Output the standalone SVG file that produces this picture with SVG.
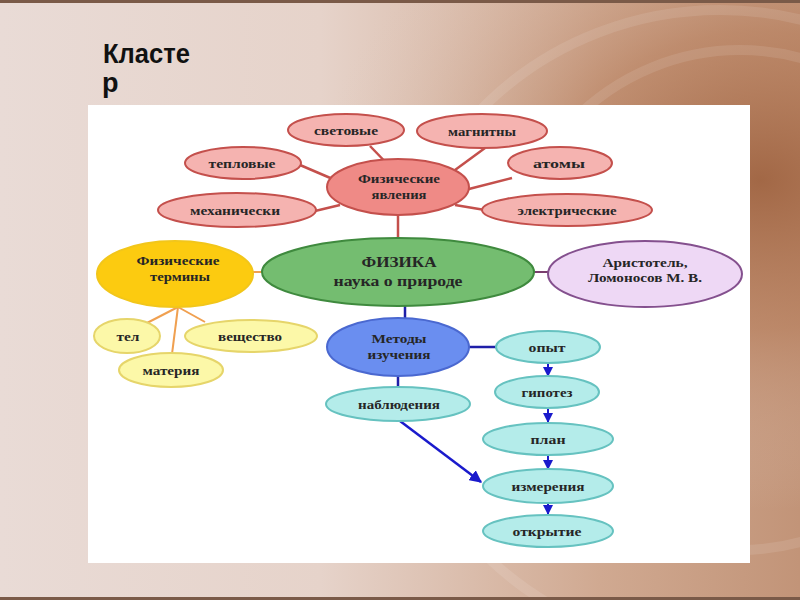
<svg xmlns="http://www.w3.org/2000/svg" width="800" height="600" viewBox="0 0 800 600">
<defs>
<linearGradient id="bg" x1="0" y1="0" x2="1" y2="0">
<stop offset="0" stop-color="#e9dbd6"/>
<stop offset="0.4" stop-color="#e6d3ca"/>
<stop offset="0.75" stop-color="#d0a991"/>
<stop offset="1" stop-color="#c29478"/>
</linearGradient>
<radialGradient id="sw" cx="0.95" cy="0.3" r="0.55">
<stop offset="0" stop-color="#9c5f3c" stop-opacity="0.85"/>
<stop offset="0.45" stop-color="#b57c5a" stop-opacity="0.55"/>
<stop offset="1" stop-color="#e0c8bb" stop-opacity="0"/>
</radialGradient>
<marker id="ah" viewBox="0 0 10 10" refX="9" refY="5" markerWidth="5" markerHeight="5" orient="auto" markerUnits="strokeWidth">
<path d="M0,0 L10,5 L0,10 z" fill="#1a1acc"/>
</marker>
<style>
.t{font-family:"Liberation Serif","DejaVu Serif",serif;font-weight:bold;font-size:13px;fill:#262626;text-anchor:middle}
.tb{font-size:15px}
.red{fill:#f5b3b0;stroke:#c4504c;stroke-width:2}
.redc{fill:#ef8a86;stroke:#c4504c;stroke-width:2}
.yel{fill:#fcf8a8;stroke:#e6d56a;stroke-width:2}
.cy{fill:#b4ecea;stroke:#66c2c0;stroke-width:2}
.rl{stroke:#c4504c;stroke-width:2.5;fill:none}
.ol{stroke:#f0a050;stroke-width:2;fill:none}
.bl{stroke:#1f1fa8;stroke-width:2.5;fill:none}
.ar{stroke:#1a1acc;stroke-width:2;fill:none;marker-end:url(#ah)}
</style>
</defs>
<rect width="800" height="600" fill="url(#bg)"/>
<rect width="800" height="600" fill="url(#sw)"/>
<g fill="none" stroke="#fff" stroke-opacity="0.1" stroke-width="10">
<ellipse cx="720" cy="330" rx="330" ry="320"/>
<ellipse cx="740" cy="300" rx="240" ry="250"/>
</g>
<rect x="0" y="0" width="800" height="3" fill="#7a5a48"/>
<rect x="0" y="597" width="800" height="3" fill="#7a5a48"/>
<text x="103" y="63" font-family="Liberation Sans, Arial, sans-serif" font-weight="bold" font-size="27" fill="#111" textLength="87" lengthAdjust="spacingAndGlyphs">Класте</text>
<text x="102" y="92" font-family="Liberation Sans, Arial, sans-serif" font-weight="bold" font-size="27" fill="#111">р</text>
<rect x="88" y="105" width="662" height="458" fill="#ffffff"/>
<g id="connectors">
<line class="rl" x1="370" y1="146" x2="398" y2="175"/>
<line class="rl" x1="300" y1="165" x2="335" y2="180"/>
<line class="rl" x1="315" y1="211" x2="340" y2="205"/>
<line class="rl" x1="455" y1="170" x2="485" y2="148"/>
<line class="rl" x1="465" y1="190" x2="512" y2="178"/>
<line class="rl" x1="455" y1="205" x2="485" y2="210"/>
<line class="rl" x1="398" y1="214" x2="398" y2="240"/>
<line class="ol" x1="250" y1="272" x2="265" y2="272"/>
<line class="ol" x1="178" y1="307" x2="145" y2="324"/>
<line class="ol" x1="178" y1="307" x2="172" y2="354"/>
<line class="ol" x1="178" y1="307" x2="205" y2="322"/>
<line x1="533" y1="272" x2="549" y2="272" stroke="#7a3e6e" stroke-width="2"/>
<line class="bl" x1="405" y1="305" x2="405" y2="320"/>
<line class="bl" x1="468" y1="347" x2="498" y2="347"/>
<line class="bl" x1="398" y1="375" x2="398" y2="389"/>
<line class="ar" x1="548" y1="364" x2="548" y2="376"/>
<line class="ar" x1="548" y1="409" x2="548" y2="422"/>
<line class="ar" x1="548" y1="456" x2="548" y2="469"/>
<line class="ar" x1="548" y1="503" x2="548" y2="514"/>
<line x1="400" y1="421" x2="481" y2="482" stroke="#1a1acc" stroke-width="2.5" marker-end="url(#ah)"/>
</g>
<g id="svetovye"><ellipse class="red" cx="346" cy="130" rx="58" ry="16"/><text class="t" x="346" y="135" textLength="64" lengthAdjust="spacingAndGlyphs">световые</text></g>
<g id="magnity"><ellipse class="red" cx="482" cy="131" rx="65" ry="17"/><text class="t" x="482" y="136" textLength="68" lengthAdjust="spacingAndGlyphs">магнитны</text></g>
<g id="teplovye"><ellipse class="red" cx="243" cy="163" rx="58" ry="16"/><text class="t" x="242" y="168" textLength="67" lengthAdjust="spacingAndGlyphs">тепловые</text></g>
<g id="atomy"><ellipse class="red" cx="560" cy="163" rx="52" ry="16"/><text class="t" x="559" y="168" textLength="52" lengthAdjust="spacingAndGlyphs">атомы</text></g>
<g id="mekh"><ellipse class="red" cx="237" cy="210" rx="79" ry="17"/><text class="t" x="235" y="215" textLength="90" lengthAdjust="spacingAndGlyphs">механически</text></g>
<g id="elektr"><ellipse class="red" cx="567" cy="210" rx="85" ry="16"/><text class="t" x="567" y="215" textLength="99" lengthAdjust="spacingAndGlyphs">электрические</text></g>
<g id="yavleniya"><ellipse class="redc" cx="398" cy="187" rx="71" ry="28"/><text class="t" x="399" y="183" textLength="82" lengthAdjust="spacingAndGlyphs">Физические</text><text class="t" x="399" y="199" textLength="55" lengthAdjust="spacingAndGlyphs">явления</text></g>
<g id="terminy"><ellipse cx="175" cy="274" rx="78" ry="33" fill="#fccb10" stroke="#f2c61a" stroke-width="2"/><text class="t" x="178" y="265" textLength="83" lengthAdjust="spacingAndGlyphs">Физические</text><text class="t" x="180" y="281" textLength="60" lengthAdjust="spacingAndGlyphs">термины</text></g>
<g id="fizika"><ellipse cx="398" cy="272" rx="136" ry="34" fill="#74bd70" stroke="#3f8a3e" stroke-width="2"/><text class="t tb" x="399" y="267" textLength="75" lengthAdjust="spacingAndGlyphs">ФИЗИКА</text><text class="t tb" x="398" y="286" textLength="129" lengthAdjust="spacingAndGlyphs">наука о природе</text></g>
<g id="aristotel"><ellipse cx="645" cy="274" rx="97" ry="33" fill="#eed8f5" stroke="#84508e" stroke-width="2"/><text class="t" x="645" y="267" font-size="14" textLength="85" lengthAdjust="spacingAndGlyphs">Аристотель,</text><text class="t" x="645" y="282" font-size="14" textLength="114" lengthAdjust="spacingAndGlyphs">Ломоносов М. В.</text></g>
<g id="tel"><ellipse class="yel" cx="127" cy="336" rx="33" ry="17"/><text class="t" x="128" y="341" textLength="23" lengthAdjust="spacingAndGlyphs">тел</text></g>
<g id="veshchestvo"><ellipse class="yel" cx="251" cy="336" rx="66" ry="16"/><text class="t" x="250" y="341" textLength="64" lengthAdjust="spacingAndGlyphs">вещество</text></g>
<g id="materiya"><ellipse class="yel" cx="171" cy="370" rx="52" ry="17"/><text class="t" x="171" y="375" textLength="57" lengthAdjust="spacingAndGlyphs">материя</text></g>
<g id="metody"><ellipse cx="398" cy="347" rx="71" ry="29" fill="#6a8ef0" stroke="#4a68d0" stroke-width="2"/><text class="t" x="399" y="343" textLength="55" lengthAdjust="spacingAndGlyphs">Методы</text><text class="t" x="399" y="359" textLength="63" lengthAdjust="spacingAndGlyphs">изучения</text></g>
<g id="opyt"><ellipse class="cy" cx="548" cy="347" rx="52" ry="16"/><text class="t" x="547" y="352" textLength="37" lengthAdjust="spacingAndGlyphs">опыт</text></g>
<g id="gipotez"><ellipse class="cy" cx="547" cy="392" rx="52" ry="16"/><text class="t" x="547" y="397" textLength="51" lengthAdjust="spacingAndGlyphs">гипотез</text></g>
<g id="plan"><ellipse class="cy" cx="548" cy="439" rx="65" ry="16"/><text class="t" x="548" y="444" textLength="35" lengthAdjust="spacingAndGlyphs">план</text></g>
<g id="izmereniya"><ellipse class="cy" cx="548" cy="486" rx="65" ry="17"/><text class="t" x="548" y="491" textLength="73" lengthAdjust="spacingAndGlyphs">измерения</text></g>
<g id="otkrytie"><ellipse class="cy" cx="548" cy="531" rx="65" ry="16"/><text class="t" x="547" y="536" textLength="69" lengthAdjust="spacingAndGlyphs">открытие</text></g>
<g id="nablyudeniya"><ellipse class="cy" cx="398" cy="404" rx="72" ry="17"/><text class="t" x="399" y="409" textLength="82" lengthAdjust="spacingAndGlyphs">наблюдения</text></g>
</svg>
